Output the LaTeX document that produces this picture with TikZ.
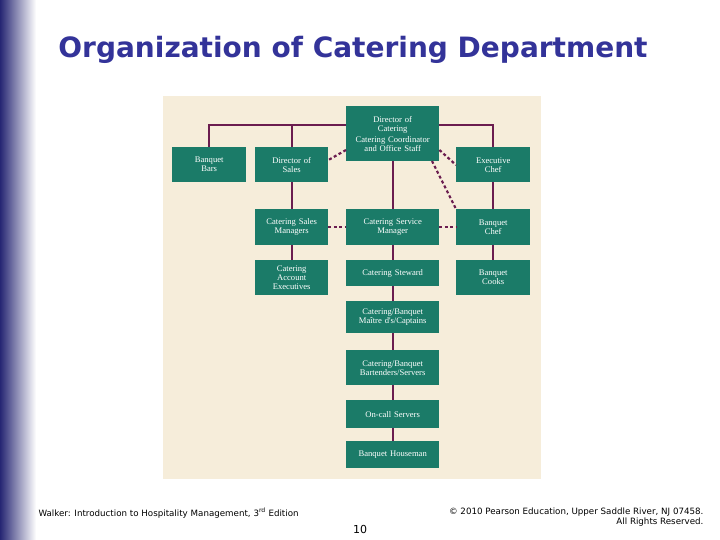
\documentclass[tikz,border=0pt]{standalone}
\usepackage{fontspec}
\setmainfont{DejaVu Sans}
\newfontfamily\boxfont{Liberation Serif}
\definecolor{teal1}{HTML}{1B7B68}
\definecolor{beige}{HTML}{F6EDDA}
\definecolor{plum}{HTML}{6B1D4F}
\definecolor{ttl}{HTML}{333399}
\begin{document}
\begin{tikzpicture}[x=1pt,y=-1pt,
  box/.style={fill=teal1,text=white,font=\boxfont\fontsize{8.6}{9}\selectfont,align=center,inner sep=0pt,anchor=north west},
  ln/.style={plum,line width=2.2pt},
  dl/.style={plum,line width=2.2pt,dash pattern=on 3pt off 2.5pt}]
\useasboundingbox (0,0) rectangle (720,540);
\shade[left color=ttl!75!black,right color=white] (0,0) rectangle (36,540);
\node[font=\bfseries\fontsize{28}{30}\selectfont,text=ttl] (title) at (353,50) {Organization of Catering Department};
\fill[beige] (163,96) rectangle (541,479);
\newcommand{\bx}[6]{\node[box,minimum width=#4-#2,minimum height=#5-#3,text width=#4-#2] (#1) at (#2,#3) {#6};}
\bx{dir}{346}{106}{439}{161}{Director of\\Catering\\[2pt]Catering Coordinator\\and Office Staff}
\bx{bars}{172}{147}{246}{182}{Banquet\\Bars}
\bx{dsal}{255}{147}{328}{182}{Director of\\Sales}
\bx{exec}{456}{147}{530}{182}{Executive\\Chef}
\bx{csm}{255}{209}{328}{245}{Catering Sales\\Managers}
\bx{csvm}{346}{209}{439}{245}{Catering Service\\Manager}
\bx{bchef}{456}{209}{530}{245}{Banquet\\Chef}
\bx{cae}{255}{260}{328}{295}{Catering\\Account\\Executives}
\bx{stew}{346}{260}{439}{286}{Catering Steward}
\bx{cooks}{456}{260}{530}{295}{Banquet\\Cooks}
\bx{maitre}{346}{301}{439}{333}{Catering/Banquet\\Maître d's/Captains}
\bx{bart}{346}{350}{439}{385}{Catering/Banquet\\Bartenders/Servers}
\bx{oncall}{346}{400}{439}{428}{On-call Servers}
\bx{house}{346}{441}{439}{468}{Banquet Houseman}
\draw[ln] (dir.west|-0,125) -| (bars.north);
\draw[ln] (dsal.north) -- (dsal.north|-0,125);
\draw[ln] (dir.east|-0,125) -| (exec.north);
\draw[ln] (dsal) -- (csm) -- (cae);
\draw[ln] (dir) -- (csvm) -- (stew) -- (maitre) -- (bart) -- (oncall) -- (house);
\draw[ln] (exec) -- (bchef) -- (cooks);
\draw[dl] (dir.west|-0,150) -- (dsal.east|-0,160);
\draw[dl] (dir.east|-0,150) -- (exec.west|-0,165);
\draw[dl] (432,161) -- (bchef.north west);
\draw[dl] (csm) -- (csvm);
\draw[dl] (csvm) -- (bchef);
\node[font=\fontsize{8.7}{10}\selectfont,anchor=west] (foot1) at (35,513) {Walker: Introduction to Hospitality Management, 3\textsuperscript{rd} Edition};
\node[font=\fontsize{11}{12}\selectfont] (pg) at (360,529) {10};
\node[font=\fontsize{8.7}{10.5}\selectfont,align=right,anchor=east] (foot2) at (707,517) {© 2010 Pearson Education, Upper Saddle River, NJ 07458.\\All Rights Reserved.};
\end{tikzpicture}
\end{document}
